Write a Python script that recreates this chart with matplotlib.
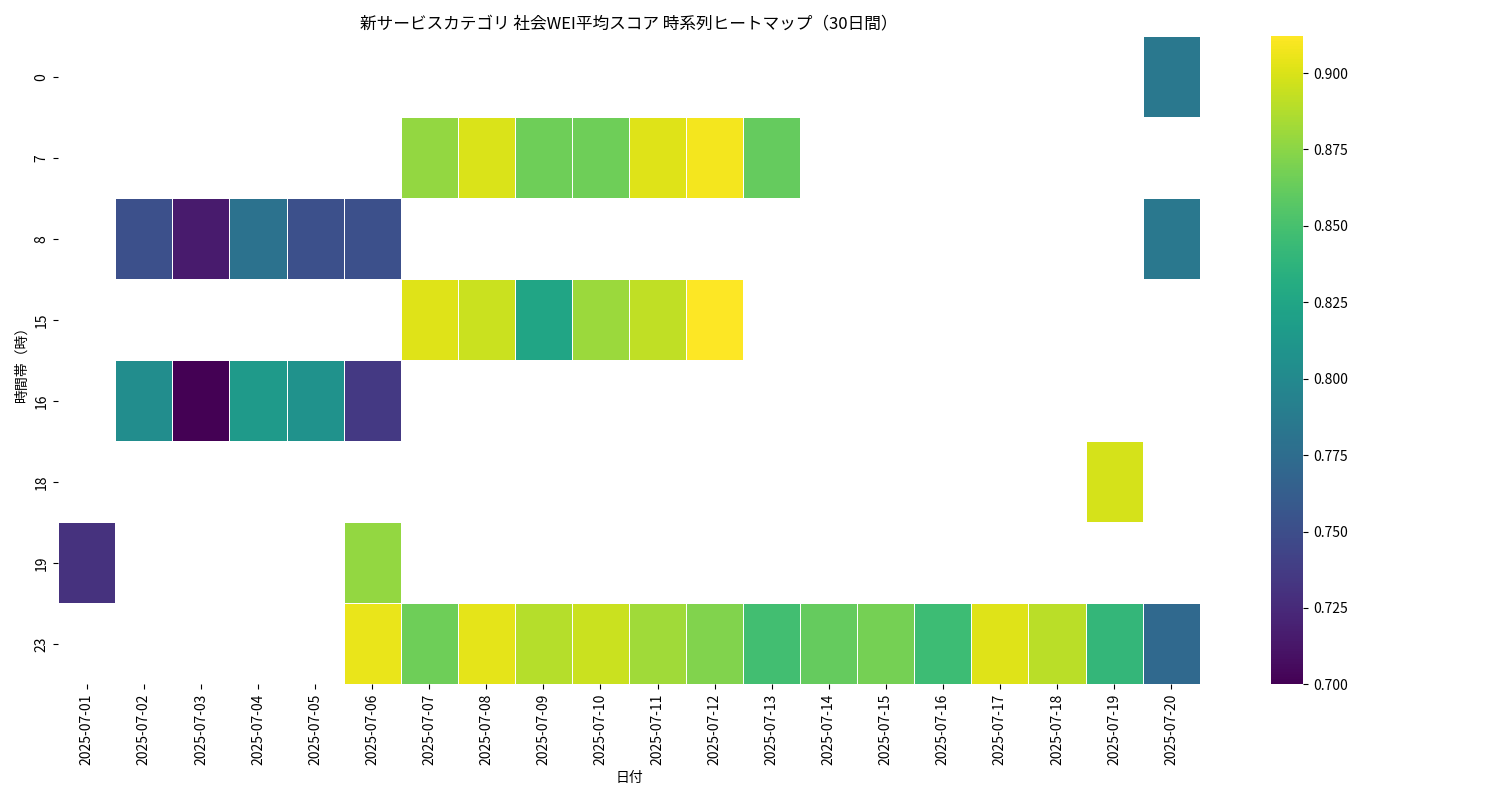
import numpy as np
import pandas as pd
import matplotlib
matplotlib.use("Agg")
import matplotlib.pyplot as plt
import seaborn as sns

plt.rcParams["font.family"] = "Noto Sans CJK JP"

dates = [f"2025-07-{d:02d}" for d in range(1, 21)]
hours = [0, 7, 8, 15, 16, 18, 19, 23]

# sparse values: (hour, day index) -> score
row_0 = {19: 0.785}
row_7 = {6: 0.878, 7: 0.900, 8: 0.865, 9: 0.865, 10: 0.902, 11: 0.908, 12: 0.862}
row_8 = {1: 0.752, 2: 0.715, 3: 0.780, 4: 0.752, 5: 0.752, 19: 0.785}
row_15 = {6: 0.902, 7: 0.895, 8: 0.825, 9: 0.880, 10: 0.892, 11: 0.912}
row_16 = {1: 0.803, 2: 0.700, 3: 0.815, 4: 0.808, 5: 0.735}
row_18 = {18: 0.898}
row_19 = {0: 0.730, 5: 0.878}
row_23 = {5: 0.905, 6: 0.865, 7: 0.903, 8: 0.888, 9: 0.895, 10: 0.882, 11: 0.872,
          12: 0.848, 13: 0.862, 14: 0.868, 15: 0.845, 16: 0.902, 17: 0.890,
          18: 0.840, 19: 0.772}

rows = [row_0, row_7, row_8, row_15, row_16, row_18, row_19, row_23]
grid = np.full((len(hours), len(dates)), np.nan)
for i, r in enumerate(rows):
    for j, v in r.items():
        grid[i, j] = v
df = pd.DataFrame(grid, index=hours, columns=dates)

fig, ax = plt.subplots(figsize=(15, 8), dpi=100)
sns.heatmap(df, cmap="viridis", linewidths=0.5, linecolor="white", ax=ax)
ax.set_title("新サービスカテゴリ 社会WEI平均スコア 時系列ヒートマップ（30日間）")
ax.set_xlabel("日付")
ax.set_ylabel("時間帯（時）")
plt.tight_layout()
plt.savefig("out.png")
